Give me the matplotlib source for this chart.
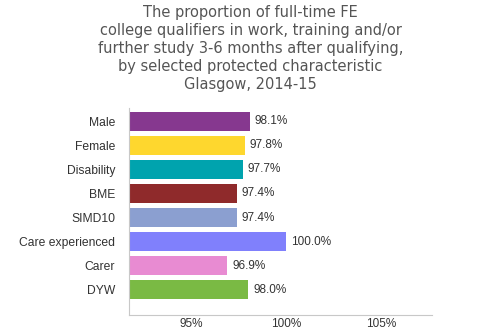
import numpy as np
import matplotlib.pyplot as plt

categories = ['Male', 'Female', 'Disability', 'BME', 'SIMD10', 'Care experienced', 'Carer', 'DYW']
values = [98.1, 97.8, 97.7, 97.4, 97.4, 100.0, 96.9, 98.0]
colors = ['#86388f', '#fed72e', '#00a3ae', '#8f2a2b', '#8b9fd0', '#8080fc', '#e88bd2', '#7aba44']
ticks = [95, 100, 105]

fig = plt.figure(figsize=(4.99, 3.33), dpi=100)
ax = fig.add_axes([129/499, 1-315/333, (432-129)/499, (315-108)/333])

xmin = 91.7
y = np.arange(len(categories))
ax.barh(y, [v - xmin for v in values], left=xmin, height=0.79, color=colors)
for yi, v in zip(y, values):
    ax.text(v + 0.25, yi, '%.1f%%' % v, va='center', ha='left',
            fontsize=8.5, color='#333333', family='Liberation Sans')

ax.set_xlim(xmin, 107.7)
ax.set_ylim(8.06, -0.56)
ax.set_yticks(y)
ax.set_yticklabels(categories, fontsize=8.7, color='#333333', family='Liberation Sans')
ax.set_xticks(ticks)
ax.set_xticklabels(['%d%%' % t for t in ticks], fontsize=8.5, color='#333333', family='Liberation Sans')
ax.tick_params(axis='y', length=0, pad=10)
ax.tick_params(axis='x', length=0, pad=2)
for s in ['top', 'right']:
    ax.spines[s].set_visible(False)
for s in ['left', 'bottom']:
    ax.spines[s].set_color('#c8c8c8')

fig.text(0.502, 0.985, 'The proportion of full-time FE\ncollege qualifiers in work, training and/or\n'
         'further study 3-6 months after qualifying,\nby selected protected characteristic\nGlasgow, 2014-15',
         ha='center', va='top', fontsize=10.5, color='#555555', linespacing=1.25)

fig.savefig('out.png', dpi=100)
